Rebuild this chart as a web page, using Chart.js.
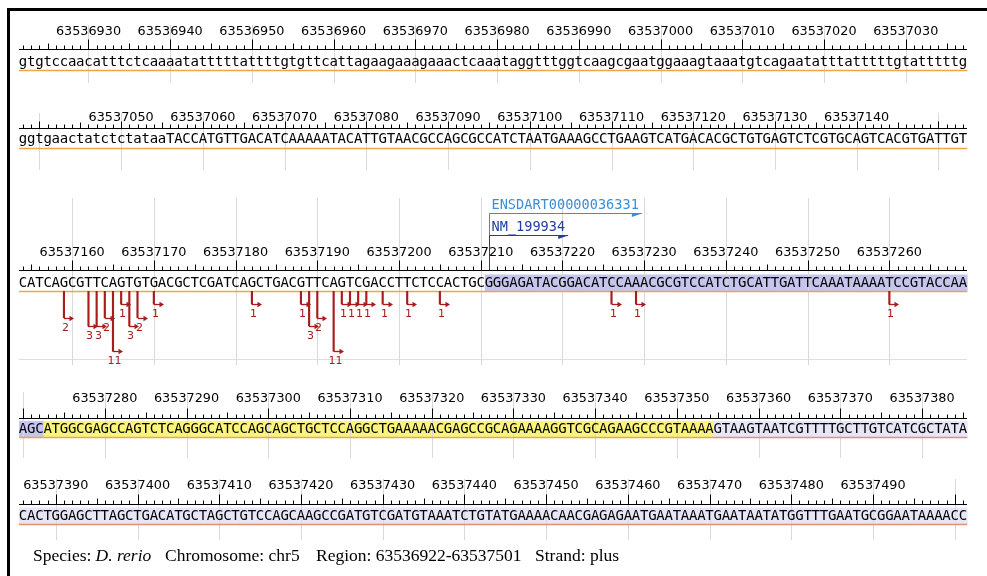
<!DOCTYPE html>
<html>
<head>
<meta charset="utf-8">
<script src="https://cdn.jsdelivr.net/npm/chart.js@4.4.1/dist/chart.umd.min.js"></script>
<style>
html,body{margin:0;padding:0;background:#fff;}
#wrap{position:relative;width:987px;height:576px;overflow:hidden;background:#fff;}
#wrap canvas{position:absolute;left:0;top:0;}
#frame{position:absolute;left:7px;top:8px;width:1000px;height:600px;border-top:3px solid #000;border-left:3px solid #000;box-sizing:border-box;}
.ft{position:absolute;top:547px;font-family:"Liberation Serif","Times New Roman",serif;font-size:17.5px;line-height:17.5px;white-space:pre;color:#000;}
</style>
</head>
<body>
<div id="wrap">
  <div id="frame"></div>
  <canvas id="c0" width="987" height="576"></canvas>
  <canvas id="c1" width="987" height="576"></canvas>
  <canvas id="c2" width="987" height="576"></canvas>
  <canvas id="c3" width="987" height="576"></canvas>
  <canvas id="c4" width="987" height="576"></canvas>
</div>
<script>
// ---------------- data ----------------
const rowStarts = [63536922, 63537038, 63537154, 63537270, 63537386];
const basesPerRow = 116;
const rowSequences = [
  'gtgtccaacatttctcaaaatatttttattttgtgttcattagaagaaagaaactcaaataggtttggtcaagcgaatggaaagtaaatgtcagaatatttatttttgtatttttg',
  'ggtgaactatctctataaTACCATGTTGACATCAAAAATACATTGTAACGCCAGCGCCATCTAATGAAAGCCTGAAGTCATGACACGCTGTGAGTCTCGTGCAGTCACGTGATTGT',
  'CATCAGCGTTCAGTGTGACGCTCGATCAGCTGACGTTCAGTCGACCTTCTCCACTGCGGGAGATACGGACATCCAAACGCGTCCATCTGCATTGATTCAAATAAAATCCGTACCAA',
  'AGCATGGCGAGCCAGTCTCAGGGCATCCAGCAGCTGCTCCAGGCTGAAAAACGAGCCGCAGAAAAGGTCGCAGAAGCCCGTAAAAGTAAGTAATCGTTTTGCTTGTCATCGCTATA',
  'CACTGGAGCTTAGCTGACATGCTAGCTGTCCAGCAAGCCGATGTCGATGTAAATCTGTATGAAAACAACGAGAGAATGAATAAATGAATAATATGGTTTGAATGCGGAATAAAACC'
];
const tickStep = 10;
const tagPositions = [63537159, 63537162, 63537163, 63537164, 63537165, 63537166, 63537167, 63537168, 63537170,
                      63537182, 63537188, 63537189, 63537190, 63537192, 63537193, 63537194, 63537195, 63537196,
                      63537198, 63537201, 63537205, 63537226, 63537229, 63537260];
const tagCounts    = [2, 3, 3, 2, 11, 1, 3, 2, 1,
                      1, 1, 3, 2, 11, 1, 1, 1, 1,
                      1, 1, 1, 1, 1, 1];
const transcriptNames = ['ENSDART00000036331', 'NM_199934'];
const transcriptStart = 63537211;
const utr5Range = [63537211, 63537272];
const cdsRange = [63537273, 63537354];
const downstreamRange = [63537355, 63537501];
const footerParts = ['Species:', 'D. rerio', 'Chromosome: chr5', 'Region: 63536922-63537501', 'Strand: plus'];

// ---------------- layout / style ----------------
const AREA_L = 19, AREA_R = 967;
const rowGeom = [
  {label: 31.5,  axis: 49,    base: 65.5,  under: 70,    gTop: 25,  gBot: 83,  major: 10},
  {label: 117.5, axis: 128.3, base: 142.5, under: 147.5, gTop: 113, gBot: 170, major: 7},
  {label: 252.5, axis: 270,   base: 286.5, under: 291,   gTop: 198, gBot: 365, major: 10},
  {label: 399,   axis: 417.7, base: 432.8, under: 437.3, gTop: 392, gBot: 458, major: 10},
  {label: 485.7, axis: 504,   base: 519.5, under: 524,   gTop: 479, gBot: 540, major: 10}
];
const TAG_COLOR = '#a81c1c';
const TAG_MIN = 0.513, TAG_MAX = 22;
const ENS_COLOR = '#3b8ed6', NM_COLOR = '#1f3f9c';
const ENS_Y = 213, NM_Y = 235;

function inRange(p, r) { return p >= r[0] && p <= r[1]; }

function makeRowPlugin(r) {
  const g = rowGeom[r];
  const start = rowStarts[r];
  const seq = rowSequences[r];
  const end = start + basesPerRow - 1;
  return {
    id: 'seqRow' + r,
    beforeDatasetsDraw(chart) {
      const ctx = chart.ctx, xs = chart.scales.x;
      const step = xs.getPixelForValue(start + 1) - xs.getPixelForValue(start);
      ctx.save();
      // highlights
      const boxTop = g.base - 12;
      for (let i = 0; i < basesPerRow; i++) {
        const p = start + i;
        let col = null;
        if (inRange(p, utr5Range)) col = '#c5c5ee';
        else if (inRange(p, cdsRange)) col = '#fbf47c';
        else if (inRange(p, downstreamRange)) col = '#e6e6f7';
        if (col) {
          const x = xs.getPixelForValue(p);
          ctx.fillStyle = col;
          ctx.fillRect(x - step / 2, boxTop, step + 0.6, g.under - boxTop);
        }
      }
      // grid lines
      ctx.strokeStyle = '#d9d9d9';
      ctx.lineWidth = 1;
      for (let p = start; p <= end; p++) {
        if (p % tickStep === 0) {
          const x = Math.round(xs.getPixelForValue(p)) + 0.5;
          ctx.beginPath(); ctx.moveTo(x, g.gTop); ctx.lineTo(x, g.gBot); ctx.stroke();
        }
      }
      // axis line
      ctx.strokeStyle = '#000';
      const ay = Math.round(g.axis) + 0.5;
      ctx.beginPath(); ctx.moveTo(AREA_L, ay); ctx.lineTo(AREA_R, ay); ctx.stroke();
      // ticks
      for (let p = start; p <= end; p++) {
        const x = Math.round(xs.getPixelForValue(p)) + 0.5;
        const len = p % 10 === 0 ? g.major : (p % 5 === 0 ? 6 : 4);
        ctx.beginPath(); ctx.moveTo(x, ay); ctx.lineTo(x, ay - len); ctx.stroke();
      }
      // tick labels
      ctx.fillStyle = '#000';
      ctx.font = '12.8px "DejaVu Sans", Verdana, sans-serif';
      ctx.textAlign = 'center';
      ctx.textBaseline = 'middle';
      for (let p = start; p <= end; p++) {
        if (p % tickStep === 0) {
          const x = xs.getPixelForValue(p);
          const label = String(p);
          const w = ctx.measureText(label).width;
          if (x - w / 2 >= AREA_L - 1 && x + w / 2 <= AREA_R + 1) ctx.fillText(label, x, g.label);
        }
      }
      // sequence letters
      ctx.font = '14px "DejaVu Sans Mono", monospace';
      ctx.textBaseline = 'alphabetic';
      for (let i = 0; i < seq.length; i++) {
        ctx.fillText(seq[i], xs.getPixelForValue(start + i), g.base);
      }
      // underline
      const uy = Math.round(g.under) + 0.5;
      ctx.lineWidth = 1.5;
      for (let i = 0; i < basesPerRow; i++) {
        const p = start + i;
        const x = xs.getPixelForValue(p);
        ctx.strokeStyle = inRange(p, downstreamRange) ? '#e48e72' : '#f0a448';
        ctx.beginPath(); ctx.moveTo(x - step / 2, uy); ctx.lineTo(x + step / 2 + 0.3, uy); ctx.stroke();
      }
      // lower track border for rows with tags
      if (chart.data.datasets[0].data.length) {
        ctx.strokeStyle = '#f7d9b5';
        ctx.lineWidth = 1;
        const by = chart.chartArea.bottom - 5.5;
        ctx.beginPath(); ctx.moveTo(AREA_L, by); ctx.lineTo(AREA_R, by); ctx.stroke();
      }
      ctx.restore();
    },
    afterDatasetsDraw(chart) {
      const ctx = chart.ctx, xs = chart.scales.x;
      ctx.save();
      // tag hooks and counts
      const meta = chart.getDatasetMeta(0);
      const ds = chart.data.datasets[0].data;
      ctx.strokeStyle = TAG_COLOR;
      ctx.fillStyle = TAG_COLOR;
      ctx.lineWidth = 1.3;
      ctx.font = '11px "DejaVu Sans", Verdana, sans-serif';
      ctx.textAlign = 'center';
      ctx.textBaseline = 'middle';
      meta.data.forEach((el, j) => {
        const x = Math.round(el.x) + 0.5, y = Math.round(el.y) + 0.5;
        ctx.beginPath(); ctx.moveTo(x - 0.6, y); ctx.lineTo(x + 6, y); ctx.stroke();
        ctx.beginPath(); ctx.moveTo(x + 5, y - 2.8); ctx.lineTo(x + 9.5, y); ctx.lineTo(x + 5, y + 2.8); ctx.closePath(); ctx.fill();
        ctx.fillText(String(ds[j].y), x + 1, y + 10);
      });
      // transcripts
      if (transcriptStart >= start && transcriptStart <= end) {
        const x0 = Math.round(xs.getPixelForValue(transcriptStart)) + 0.5;
        ctx.font = '13.6px "DejaVu Sans Mono", monospace';
        ctx.textAlign = 'left';
        ctx.textBaseline = 'middle';
        const ys = [ENS_Y, NM_Y], cols = [ENS_COLOR, NM_COLOR];
        transcriptNames.forEach((name, k) => {
          const y = ys[k] + 0.5;
          ctx.fillStyle = cols[k];
          ctx.strokeStyle = cols[k];
          ctx.lineWidth = 1;
          ctx.fillText(name, x0 + 2, y - 8);
          const w = ctx.measureText(name).width;
          const xe = x0 + 2 + w + 3;
          ctx.beginPath(); ctx.moveTo(x0, y); ctx.lineTo(xe, y); ctx.stroke();
          ctx.beginPath(); ctx.moveTo(xe, y); ctx.lineTo(xe - 10, y); ctx.lineTo(xe - 10, y + 3.5); ctx.closePath(); ctx.fill();
          ctx.beginPath(); ctx.moveTo(x0, y); ctx.lineTo(x0, g.axis); ctx.stroke();
        });
      }
      ctx.restore();
    }
  };
}

function makeRow(r) {
  const g = rowGeom[r];
  const start = rowStarts[r];
  const end = start + basesPerRow - 1;
  const data = [];
  tagPositions.forEach((p, j) => { if (p >= start && p <= end) data.push({x: p, y: tagCounts[j]}); });
  new Chart(document.getElementById('c' + r), {
    type: 'bar',
    data: { datasets: [{ data: data, backgroundColor: TAG_COLOR, borderWidth: 0, barThickness: 1.5 }] },
    options: {
      responsive: false,
      animation: false,
      devicePixelRatio: 1,
      events: [],
      layout: { padding: { left: AREA_L, right: 987 - AREA_R, top: g.under, bottom: 576 - g.gBot } },
      plugins: { legend: { display: false }, tooltip: { enabled: false }, title: { display: false } },
      scales: {
        x: { type: 'linear', display: false, offset: false, min: start - 0.5, max: end + 0.5, bounds: 'data' },
        y: { type: 'logarithmic', display: false, reverse: true, min: TAG_MIN, max: TAG_MAX, bounds: 'data' }
      }
    },
    plugins: [makeRowPlugin(r)]
  });
}

for (let r = 0; r < rowStarts.length; r++) makeRow(r);

// footer
const wrap = document.getElementById('wrap');
const footerX = [33, 95.5, 165, 316, 535];
footerParts.forEach((text, k) => {
  const s = document.createElement('span');
  s.className = 'ft';
  s.style.left = footerX[k] + 'px';
  if (k === 1) s.style.fontStyle = 'italic';
  s.textContent = text;
  wrap.appendChild(s);
});
</script>
</body>
</html>
